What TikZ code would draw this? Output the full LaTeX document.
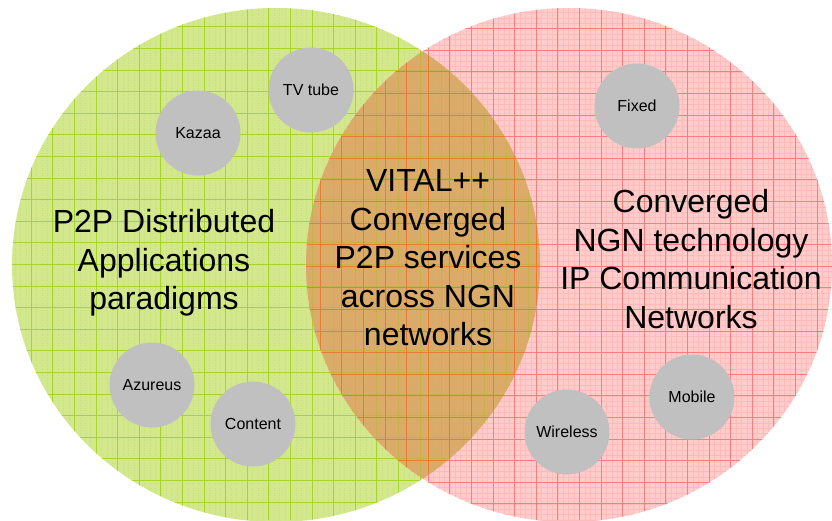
\documentclass[tikz,border=0pt]{standalone}
\usepackage{fontspec}
\setmainfont{Liberation Sans}
\definecolor{greenfill}{HTML}{D3E78D}
\definecolor{greenline}{HTML}{A8D42C}
\definecolor{greenminor}{HTML}{C6DF7C}
\definecolor{redfill}{HTML}{FFCBCB}
\definecolor{redline}{HTML}{FF7C7C}
\definecolor{redminor}{HTML}{FFBABA}
\definecolor{mixfill}{HTML}{D9AD69}
\definecolor{mixminor}{HTML}{DDA868}
\definecolor{mixred}{HTML}{E67D34}
\definecolor{mixgreen}{HTML}{C6B24A}
\definecolor{bubble}{HTML}{C0C0C0}
\tikzset{
  bigtext/.style={align=center, font=\fontsize{32}{38.5}\selectfont, inner sep=0pt},
  bubblenode/.style={circle, fill=bubble, minimum size=85pt, inner sep=0pt,
                     font=\fontsize{16}{18}\selectfont, text=black},
}
\newcommand{\greenshape}{(276,265) ellipse [x radius=264, y radius=257]}
\newcommand{\redshape}{(569,265) ellipse [x radius=263, y radius=257]}
\begin{document}
\begin{tikzpicture}[x=1pt, y=-1pt]
\useasboundingbox (0,0) rectangle (832,520);
\fill[white] (0,0) rectangle (832,520);

% base fills
\fill[greenfill] \greenshape;
\fill[redfill] \redshape;

% green grid: faint dotted minor lines, solid major lines
\begin{scope}
  \clip \greenshape;
  \foreach \i in {0,...,105} {
    \draw[greenminor, line width=0.5pt, dotted] ({4.2+5.4*\i},0) -- ({4.2+5.4*\i},520);
  }
  \foreach \i in {0,...,26} {
    \draw[greenline, line width=0.9pt] ({9.6+21.6*\i},0) -- ({9.6+21.6*\i},520);
    \draw[greenline, line width=0.9pt] (0,{5.3+21.6*\i}) -- (832,{5.3+21.6*\i});
  }
\end{scope}

% red grid: fine minor lines, solid major lines
\begin{scope}
  \clip \redshape;
  \foreach \i in {0,...,155} {
    \draw[redminor, line width=0.4pt] ({1.6+5.4*\i},0) -- ({1.6+5.4*\i},520);
    \draw[redminor, line width=0.4pt] (0,{1.6+5.4*\i}) -- (832,{1.6+5.4*\i});
  }
  \foreach \i in {0,...,39} {
    \draw[redline, line width=0.9pt] ({17.8+21.6*\i},0) -- ({17.8+21.6*\i},520);
    \draw[redline, line width=0.9pt] (0,{7+21.6*\i}) -- (832,{7+21.6*\i});
  }
\end{scope}

% overlap: its own fill and blended grid colours
\begin{scope}
  \clip \greenshape;
  \clip \redshape;
  \fill[mixfill] (0,0) rectangle (832,520);
  \foreach \i in {0,...,155} {
    \draw[mixminor, line width=0.35pt] ({1.6+5.4*\i},0) -- ({1.6+5.4*\i},520);
    \draw[mixminor, line width=0.35pt] (0,{1.6+5.4*\i}) -- (832,{1.6+5.4*\i});
  }
  \foreach \i in {0,...,26} {
    \draw[mixgreen, line width=0.9pt] ({9.6+21.6*\i},0) -- ({9.6+21.6*\i},520);
    \draw[mixgreen, line width=0.9pt] (0,{5.3+21.6*\i}) -- (832,{5.3+21.6*\i});
  }
  \foreach \i in {0,...,39} {
    \draw[mixred, line width=0.8pt] ({17.8+21.6*\i},0) -- ({17.8+21.6*\i},520);
    \draw[mixred, line width=0.8pt] (0,{7+21.6*\i}) -- (832,{7+21.6*\i});
  }
\end{scope}

% main labels
\node[bigtext] (p2p) at (164,263) {P2P Distributed\\Applications\\paradigms};
\node[bigtext] (vital) at (428,258) {VITAL++\\Converged\\P2P services\\across NGN\\networks};
\node[bigtext] (ngn) at (691,259) {Converged\\NGN technology\\IP Communication\\Networks};

% example bubbles
\node[bubblenode] (kazaa) at (198,133) {Kazaa};
\node[bubblenode] (tvtube) at (311,90) {TV tube};
\node[bubblenode] (azureus) at (152,385) {Azureus};
\node[bubblenode] (content) at (253,424) {Content};
\node[bubblenode] (fixed) at (637,106) {Fixed};
\node[bubblenode] (mobile) at (692,397) {Mobile};
\node[bubblenode] (wireless) at (567,432) {Wireless};
\end{tikzpicture}
\end{document}
